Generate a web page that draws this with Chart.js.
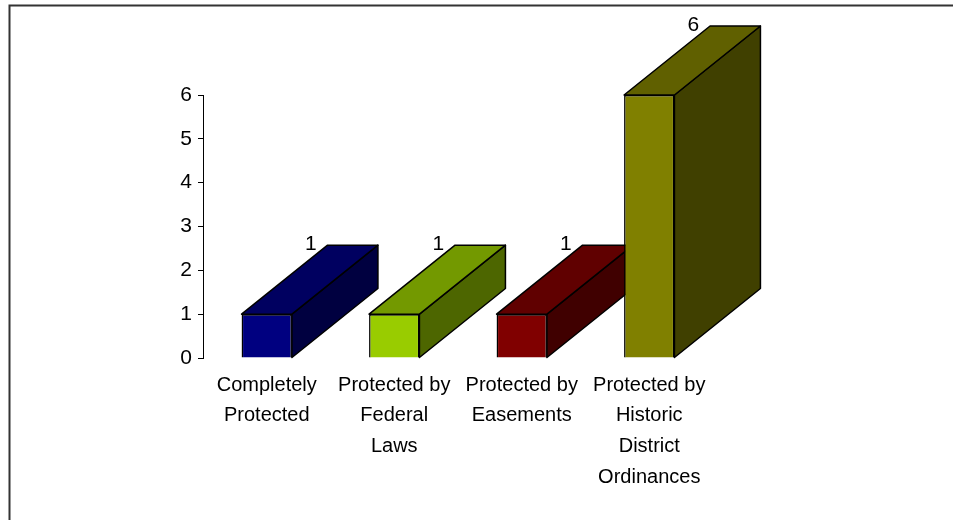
<!DOCTYPE html>
<html>
<head>
<meta charset="utf-8">
<script src="https://cdn.jsdelivr.net/npm/chart.js@4/dist/chart.umd.min.js"></script>
<style>
  html, body { margin: 0; padding: 0; background: #fff; }
  #wrap { position: relative; width: 953px; height: 520px; }
</style>
</head>
<body>
<div id="wrap"><canvas id="chartCanvas" width="953" height="520"></canvas></div>
<script>
// Dữ liệu của biểu đồ
const categories = [
    ['Completely', 'Protected'],
    ['Protected by', 'Federal', 'Laws'],
    ['Protected by', 'Easements'],
    ['Protected by', 'Historic', 'District', 'Ordinances']
];
const values = [1, 1, 1, 6];
const yTicks = [0, 1, 2, 3, 4, 5, 6];

// Màu mặt trước / mặt trên / mặt bên
const frontColors = ['#000080', '#99cc00', '#800000', '#808000'];
const topColors = ['#000060', '#739900', '#600000', '#606000'];
const sideColors = ['#000040', '#4d6600', '#400000', '#404000'];

const DEPTH_X = 86;
const DEPTH_Y = -69;
const FONT = '"Liberation Sans", Arial, sans-serif';

// Vẽ khung viền của hình
const framePlugin = {
    id: 'frame',
    beforeDraw(chart) {
        const ctx = chart.ctx;
        ctx.save();
        ctx.strokeStyle = '#333';
        ctx.lineWidth = 2;
        ctx.beginPath();
        ctx.moveTo(9.5, 520);
        ctx.lineTo(9.5, 5.5);
        ctx.lineTo(953, 5.5);
        ctx.stroke();
        ctx.restore();
    }
};

// Vẽ phần 3D (mặt trên và mặt bên) trước khi Chart.js vẽ mặt trước
const depthPlugin = {
    id: 'depth3d',
    beforeDatasetsDraw(chart) {
        const ctx = chart.ctx;
        const meta = chart.getDatasetMeta(0);
        ctx.save();
        ctx.lineWidth = 1.5;
        ctx.strokeStyle = '#000';
        ctx.lineJoin = 'round';
        meta.data.forEach((bar, i) => {
            const l = bar.x - bar.width / 2;
            const r = bar.x + bar.width / 2;
            const t = bar.y;
            const b = bar.base;
            // mặt bên
            ctx.fillStyle = sideColors[i];
            ctx.beginPath();
            ctx.moveTo(r, t);
            ctx.lineTo(r + DEPTH_X, t + DEPTH_Y);
            ctx.lineTo(r + DEPTH_X, b + DEPTH_Y);
            ctx.lineTo(r, b);
            ctx.closePath();
            ctx.fill();
            ctx.stroke();
            // mặt trên
            ctx.fillStyle = topColors[i];
            ctx.beginPath();
            ctx.moveTo(l, t);
            ctx.lineTo(l + DEPTH_X, t + DEPTH_Y);
            ctx.lineTo(r + DEPTH_X, t + DEPTH_Y);
            ctx.lineTo(r, t);
            ctx.closePath();
            ctx.fill();
            ctx.stroke();
        });
        ctx.restore();
    },
    // Nhãn giá trị ở góc sau phía trên
    afterDatasetsDraw(chart) {
        const ctx = chart.ctx;
        const meta = chart.getDatasetMeta(0);
        ctx.save();
        ctx.fillStyle = '#000';
        ctx.font = '21px ' + FONT;
        ctx.textAlign = 'right';
        ctx.textBaseline = 'middle';
        meta.data.forEach((bar, i) => {
            const l = bar.x - bar.width / 2;
            ctx.fillText(String(values[i]), l + DEPTH_X - 11, bar.y + DEPTH_Y - 1);
        });
        ctx.restore();
    }
};

const chart = new Chart(document.getElementById('chartCanvas').getContext('2d'), {
    type: 'bar',
    data: {
        labels: categories,
        datasets: [{
            data: values,
            backgroundColor: frontColors,
            borderColor: '#000',
            borderWidth: 1.5,
            barPercentage: 1,
            categoryPercentage: 0.395
        }]
    },
    options: {
        responsive: false,
        animation: false,
        events: [],
        layout: { padding: { top: 95, right: 240, bottom: 0, left: 0 } },
        plugins: {
            legend: { display: false },
            tooltip: { enabled: false }
        },
        scales: {
            x: {
                grid: { display: false, drawTicks: false },
                border: { display: false },
                ticks: {
                    color: '#000',
                    font: { family: FONT, size: 20, lineHeight: 1.53 },
                    padding: 12,
                    maxRotation: 0,
                    autoSkip: false
                },
                afterFit(scale) { scale.height = 162; }
            },
            y: {
                min: 0,
                max: 6,
                afterBuildTicks(scale) { scale.ticks = yTicks.map(v => ({ value: v })); },
                grid: { drawOnChartArea: false, tickLength: 5, color: '#000', lineWidth: 1 },
                border: { display: true, color: '#000', width: 1 },
                ticks: {
                    color: '#000',
                    font: { family: FONT, size: 21 },
                    padding: 6
                },
                afterFit(scale) { scale.width = 203; }
            }
        }
    },
    plugins: [framePlugin, depthPlugin]
});
</script>
</body>
</html>
